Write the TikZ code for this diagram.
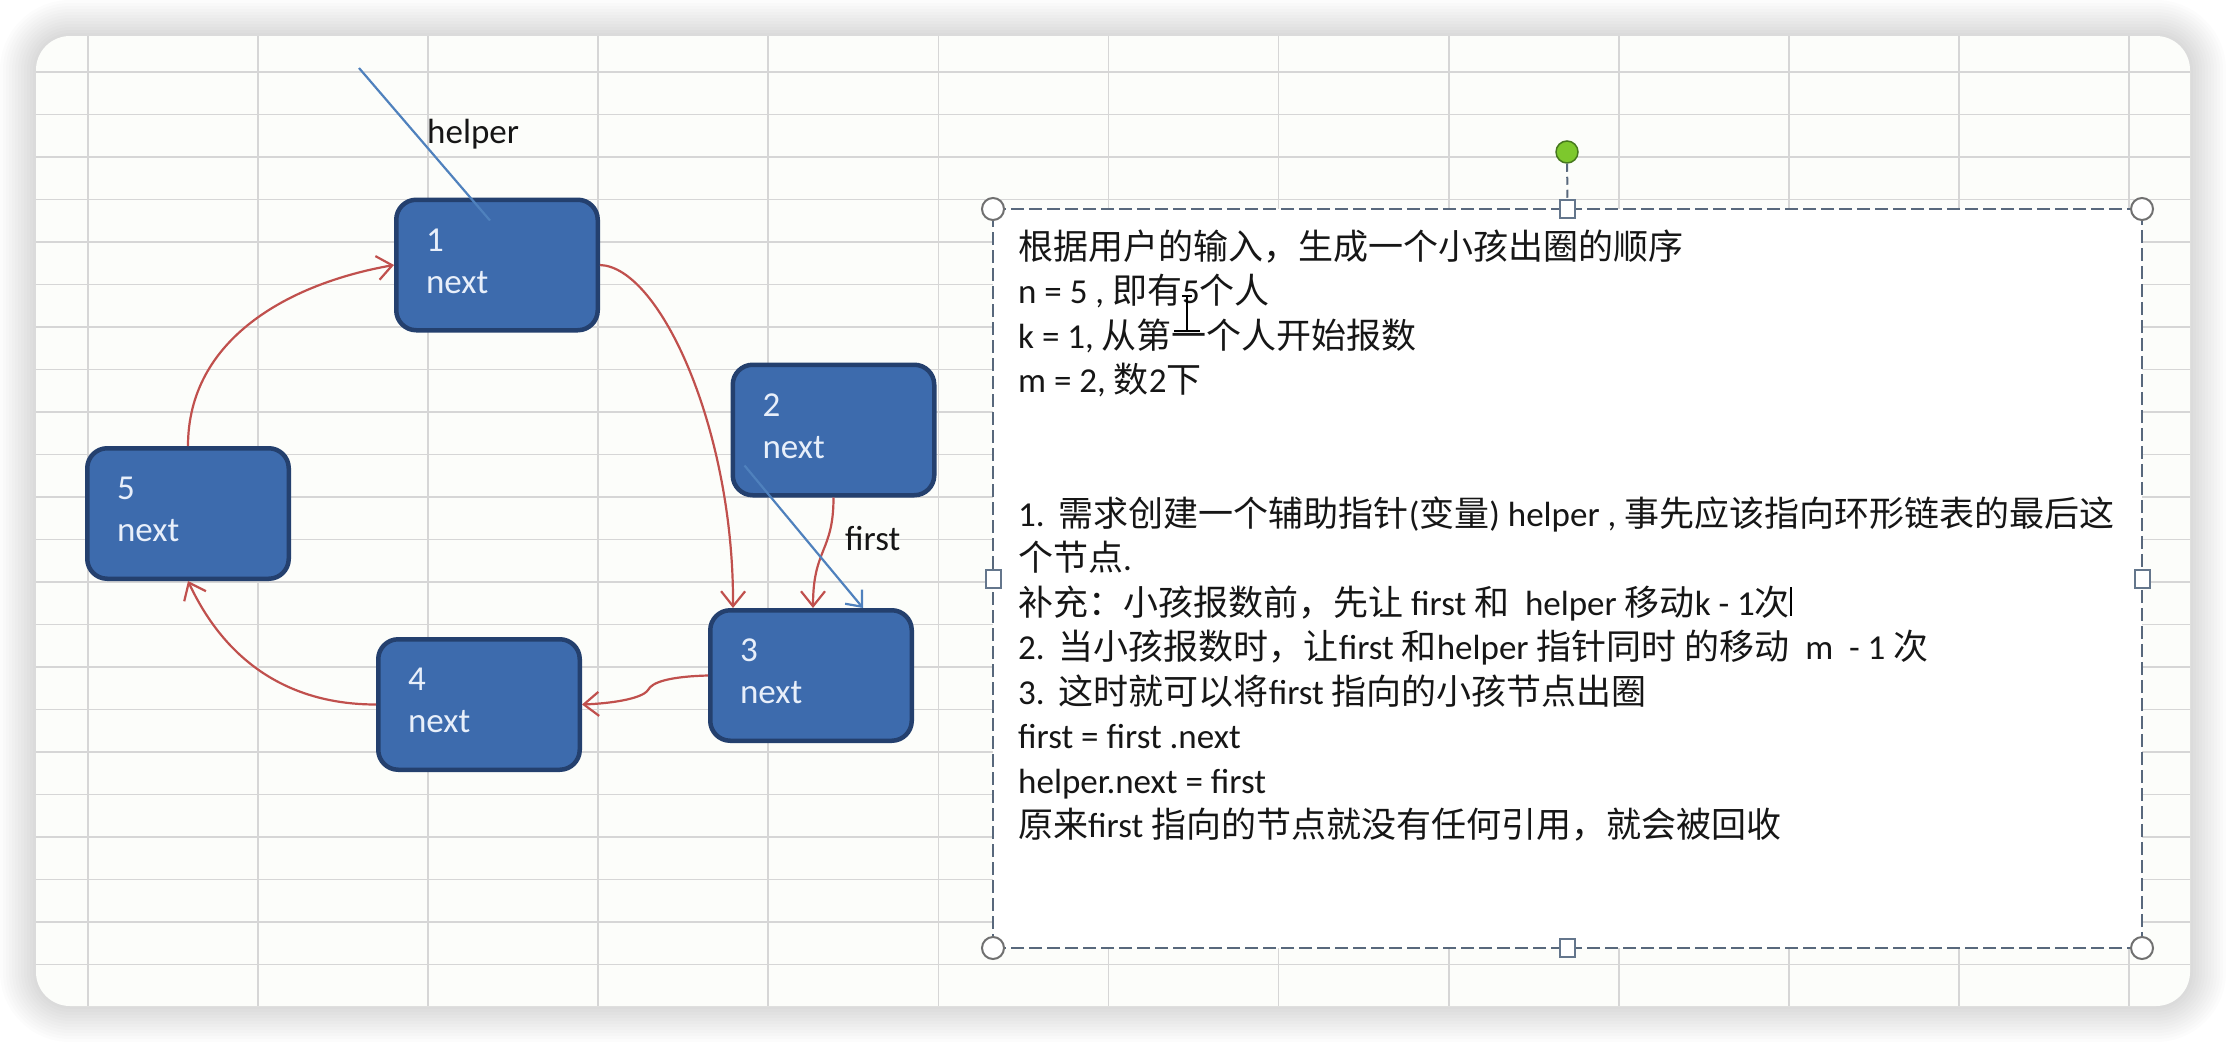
\documentclass[tikz,border=0pt]{standalone}
\usepackage{fontspec}
\setmainfont{Carlito}
\newfontfamily\cjk{Noto Sans CJK SC}
\usetikzlibrary{arrows.meta,calc}
\definecolor{gridc}{RGB}{214,214,214}
\definecolor{panelc}{RGB}{252,253,250}
\definecolor{nodefill}{RGB}{61,107,173}
\definecolor{nodeline}{RGB}{36,64,110}
\definecolor{nodetext}{RGB}{232,239,250}
\definecolor{redc}{RGB}{192,80,77}
\definecolor{bluec}{RGB}{79,129,189}
\definecolor{boxline}{RGB}{88,104,124}
\definecolor{handlec}{RGB}{112,112,112}
\definecolor{sqhandle}{RGB}{100,118,140}
\definecolor{greenf}{RGB}{125,200,45}
\definecolor{greend}{RGB}{70,120,30}
\definecolor{txt}{RGB}{22,22,22}
\newcommand{\zh}[1]{{\cjk #1}}
\begin{document}
\begin{tikzpicture}[x=1pt,y=1pt,
  listnode/.style={draw=nodeline, line width=4.5pt, fill=nodefill, rounded corners=20pt,
    minimum width=201.5pt, minimum height=130.5pt, inner sep=0pt, text width=142pt,
    align=left, text=nodetext, font=\fontsize{35}{42}\selectfont,
    text height=24pt, text depth=52pt},
  redarrow/.style={draw=redc, line width=2.2pt, -{Straight Barb[length=15pt,width=24pt]}},
  blueline/.style={draw=bluec, line width=2.2pt},
  lbl/.style={anchor=base west, inner sep=0pt, text=txt, font=\fontsize{35}{42}\selectfont},
  tline/.style={anchor=base west, inner sep=0pt, text=txt, font=\fontsize{35}{44.5}\selectfont},
  roundhandle/.style={circle, draw=handlec, fill=white, line width=2pt, minimum size=22pt, inner sep=0pt},
  squarehandle/.style={rectangle, draw=sqhandle, fill=white, line width=2pt, minimum width=15pt, minimum height=18pt, inner sep=0pt},
  greenhandle/.style={circle, draw=greend, fill=greenf, line width=1.5pt, minimum size=22pt, inner sep=0pt}
]
\useasboundingbox (0,0) rectangle (2226,-1044);
\fill[white] (0,0) rectangle (2226,-1044);
% shadow
\foreach \i in {1,...,12}{
  \pgfmathsetmacro\rr{34+3*\i}
  \fill[black, opacity=0.013, rounded corners=\rr pt] ({36-3*\i},{-36+3*\i}) rectangle ({2190+3*\i},{-1006-3*\i});
}
% panel
\fill[panelc, rounded corners=34pt] (36,-36) rectangle (2190,-1006);
\begin{scope}
  \clip[rounded corners=34pt] (36,-36) rectangle (2190,-1006);
  \foreach \k in {0,...,12}{
    \draw[gridc, line width=1.8pt] ({88+170.08*\k},-36) -- ({88+170.08*\k},-1006);
  }
  \foreach \k in {0,...,21}{
    \draw[gridc, line width=1.8pt] (36,{-72-42.5*\k}) -- (2190,{-72-42.5*\k});
  }
\end{scope}

% list nodes
\node[listnode] (n1) at (497,-265) {1\\next};
\node[listnode] (n2) at (833.5,-430) {2\\next};
\node[listnode] (n3) at (811,-675.5) {3\\next};
\node[listnode] (n4) at (479,-704.5) {4\\next};
\node[listnode] (n5) at (188,-513.5) {5\\next};

% red next arrows
\draw[redarrow] (n1.east) .. controls +(60,-2) and +(1,178) .. ($(n3.north west)+(25,0)$);
\draw[redarrow] (n2.south) .. controls +(0,-55) and +(0,60) .. ($(n3.north west)+(105,0)$);
\coordinate (c34) at (648,-690);
\draw[redarrow] (n3.west) .. controls +(-38,-1) and +(4,8) .. (c34) .. controls +(-6,-9) and +(28,1) .. (n4.east);
\draw[redarrow] (n4.west) to[out=180,in=-65] (n5.south);
\draw[redarrow] (n5.north) to[out=90,in=190] (n1.west);

% pointers
\coordinate (hs) at (359,-68);
\draw[blueline] (hs) -- ($(n1.north west)+(96,-23)$);
\draw[blueline, -{Straight Barb[length=13pt,width=22pt]}] ($(n2.south west)+(14,32)$) -- ($(n3.north west)+(155,0)$);
\node[lbl] (hl) at (427,-143) {helper};
\node[lbl] (fl) at (845,-550) {first};

% text box
\node[draw=boxline, line width=2.5pt, dash pattern=on 13pt off 5pt, fill=white,
  minimum width=1149pt, minimum height=739pt, inner sep=0pt, outer sep=0pt,
  anchor=north west] (tb) at (993,-209) {};

\node[tline] (t1) at (1018,-259) {\zh{根据用户的输入，生成一个小孩出圈的顺序}};
\node[tline] (t2) at (1018,-303.5) {n = 5 , \zh{即有}5\zh{个人}};
\node[tline] (t3) at (1018,-348) {k = 1, \zh{从第一个人开始报数}};
\node[tline] (t4) at (1018,-392.5) {m = 2, \zh{数}2\zh{下}};
\node[tline] (t5) at (1018,-526) {1.\hspace{14pt}\zh{需求创建一个辅助指针}(\zh{变量}) helper , \zh{事先应该指向环形链表的最后这}};
\node[tline] (t6) at (1018,-570.5) {\zh{个节点}.};
\node[tline] (t7) at (1018,-615) {\zh{补充：小孩报数前，先让} first \zh{和} \ helper \zh{移动}k - 1\zh{次}};
\node[tline] (t8) at (1018,-659.5) {2.\hspace{14pt}\zh{当小孩报数时，让}first \zh{和}helper \zh{指针同时} \zh{的移动} \ m \ - 1 \zh{次}};
\node[tline] (t9) at (1018,-704) {3.\hspace{14pt}\zh{这时就可以将}first \zh{指向的小孩节点出圈}};
\node[tline] (t10) at (1018,-748.5) {first = first .next};
\node[tline] (t11) at (1018,-793) {helper.next = first};
\node[tline] (t12) at (1018,-837.5) {\zh{原来}first \zh{指向的节点就没有任何引用，就会被回收}};

% cursors
\draw[black, line width=1.6pt] (1187,-297) -- (1187,-331);
\draw[black, line width=1.6pt] (1182,-296) -- (1192,-296);
\draw[black, line width=1.8pt] (1174,-331) -- (1200,-331);
\draw[black, line width=2pt] ($(t7.base east)+(1,-1)$) -- ++(0,29);

% selection handles
\node[greenhandle] (rot) at (1567,-152) {};
\node[squarehandle] (hmt) at (tb.north) {};
\node[squarehandle] (hmb) at (tb.south) {};
\node[squarehandle] (hml) at (tb.west) {};
\node[squarehandle] (hmr) at (tb.east) {};
\draw[boxline, line width=2pt, dash pattern=on 8pt off 5pt] (rot) -- (hmt);
\node[roundhandle] (hnw) at (tb.north west) {};
\node[roundhandle] (hne) at (tb.north east) {};
\node[roundhandle] (hsw) at (tb.south west) {};
\node[roundhandle] (hse) at (tb.south east) {};
\end{tikzpicture}
\end{document}
